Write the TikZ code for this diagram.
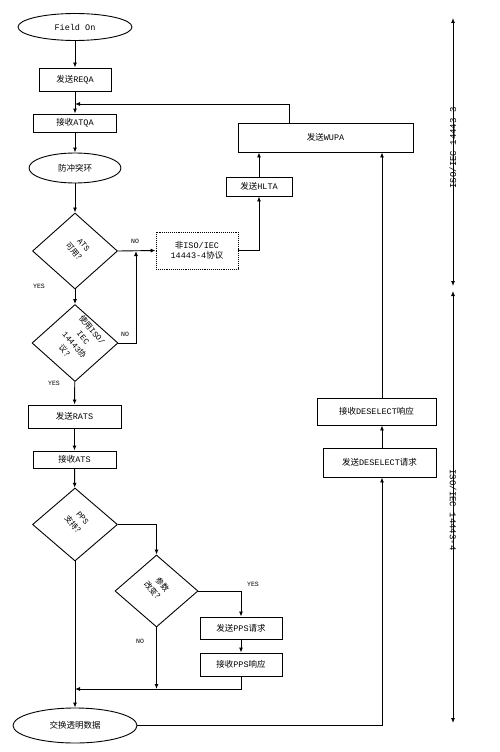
\documentclass[tikz,border=0pt]{standalone}
\usepackage{fontspec}
\setmainfont{Liberation Mono}
\newfontfamily\cjk{Noto Sans CJK SC}
\usetikzlibrary{shapes.geometric,arrows.meta,calc}
\newcommand\zhtxt[1]{{\cjk #1}}
\begin{document}
\begin{tikzpicture}[x=1pt,y=-1pt,
  every node/.style={font=\fontsize{8.5}{10}\selectfont},
  box/.style={draw,line width=0.9pt,inner sep=0pt},
  dbox/.style={draw,densely dotted,line width=0.9pt,inner sep=0pt,align=center},
  ell/.style={draw,ellipse,line width=0.9pt,inner sep=0pt},
  dia/.style={draw,diamond,line width=0.9pt,inner sep=0pt},
  dtext/.style={rotate=-50,align=center,inner sep=0pt,font=\fontsize{8}{11.5}\selectfont},
  lab/.style={inner sep=0pt,font=\fontsize{6.5}{7}\selectfont},
  axlab/.style={inner sep=0pt,font=\fontsize{9}{10}\selectfont},
  arr/.style={line width=0.9pt,-{Latex[length=5pt,width=4pt]}},
  darr/.style={line width=0.9pt,{Latex[length=5pt,width=4pt]}-{Latex[length=5pt,width=4pt]}}]
\useasboundingbox[fill=white] (0,0) rectangle (500,752);

% nodes
\node[ell,minimum width=114,minimum height=27] (start) at (75,27) {Field On};
\node[box,minimum width=72,minimum height=23] (reqa) at (75,79.5) {\zhtxt{发送}REQA};
\node[box,minimum width=83,minimum height=18] (atqa) at (75,123) {\zhtxt{接收}ATQA};
\node[ell,minimum width=92,minimum height=30] (anti) at (75,168) {\zhtxt{防冲突环}};
\node[dia,minimum width=85,minimum height=76] (d1) at (75,251) {};
\node[dtext] (d1t) at (79,249) {ATS\\\zhtxt{可用？}};
\node[dbox,minimum width=82,minimum height=37] (non) at (197,250.5) {\zhtxt{非}ISO/IEC\\14443-4\zhtxt{协议}};
\node[box,minimum width=66,minimum height=19] (hlta) at (259,186.5) {\zhtxt{发送}HLTA};
\node[box,minimum width=175,minimum height=29] (wupa) at (325.5,137.5) {\zhtxt{发送}WUPA};
\node[dia,minimum width=86,minimum height=77] (d2) at (75,343) {};
\node[dtext] (d2t) at (79,341) {\zhtxt{使用}ISO/\\IEC\\14443\zhtxt{协}\\\zhtxt{议？}};
\node[box,minimum width=93,minimum height=23] (rats) at (74.5,416.5) {\zhtxt{发送}RATS};
\node[box,minimum width=83,minimum height=17] (ats) at (74.5,459.5) {\zhtxt{接收}ATS};
\node[dia,minimum width=85,minimum height=73] (d3) at (75,524.5) {};
\node[dtext] (d3t) at (78,522) {PPS\\\zhtxt{支持？}};
\node[dia,minimum width=83,minimum height=72] (d4) at (156.5,591) {};
\node[dtext] (d4t) at (158,588) {\zhtxt{参数}\\\zhtxt{改变？}};
\node[box,minimum width=82,minimum height=22] (ppsreq) at (241,628) {\zhtxt{发送}PPS\zhtxt{请求}};
\node[box,minimum width=82,minimum height=23] (ppsresp) at (241,664.5) {\zhtxt{接收}PPS\zhtxt{响应}};
\node[ell,minimum width=124,minimum height=35] (exch) at (75,725.5) {\zhtxt{交换透明数据}};
\node[box,minimum width=113,minimum height=29] (desreq) at (379.5,462.5) {\zhtxt{发送}DESELECT\zhtxt{请求}};
\node[box,minimum width=119,minimum height=27] (desresp) at (376.5,411.5) {\zhtxt{接收}DESELECT\zhtxt{响应}};

% labels
\node[lab] (no1) at (135,241) {NO};
\node[lab] (yes1) at (39,286) {YES};
\node[lab] (no2) at (125,334) {NO};
\node[lab] (yes2) at (54,383) {YES};
\node[lab] (yes3) at (253,584) {YES};
\node[lab] (no3) at (140,641) {NO};

% coordinates
\coordinate (j1) at (75,104);
\coordinate (j2) at (136,251);
\coordinate (j3) at (75,689);
\coordinate (dx) at (382,0);
\coordinate (wx) at (289,0);

% connectors
\draw[arr] (start) -- (reqa);
\draw[arr] (reqa) -- (atqa);
\draw[arr] (wupa.north -| wx) |- (j1);
\draw[arr] (atqa) -- (anti);
\draw[arr] (anti) -- (d1);
\draw[arr] (d1) -- (d2);
\draw[arr] (d1.east) -- (non.west);
\draw[arr] (non.east) -| (hlta.south);
\draw[arr] (hlta) -- (wupa.south -| hlta);
\draw[arr] (d2.east) -| (j2);
\draw[arr] (d2) -- (rats);
\draw[arr] (rats) -- (ats);
\draw[arr] (ats) -- (d3);
\draw[arr] (d3.east) -| (d4.north);
\draw[arr] (d4.east) -| (ppsreq.north);
\draw[arr] (ppsreq) -- (ppsresp);
\draw[arr] (ppsresp.south) |- (j3);
\draw[arr] (d4.south) -- (d4.south |- j3);
\draw[arr] (d3.south) -- (exch.north);
\draw[arr] (exch.east) -| (desreq.south -| dx);
\draw[arr] (desreq.north -| dx) -- (desresp.south -| dx);
\draw[arr] (desresp.north -| dx) -- (wupa.south -| dx);

% axis
\coordinate (a1) at (453,18);
\coordinate (a2) at (453,286);
\coordinate (a3) at (453,291);
\coordinate (a4) at (453,723);
\draw[darr] (a1) -- (a2);
\draw[darr] (a3) -- (a4);
\node[axlab,rotate=90] (ax1) at (453,148) {ISO/IEC 14443-3};
\node[axlab,rotate=-90] (ax2) at (453,510) {ISO/IEC 14443-4};
\end{tikzpicture}
\end{document}
